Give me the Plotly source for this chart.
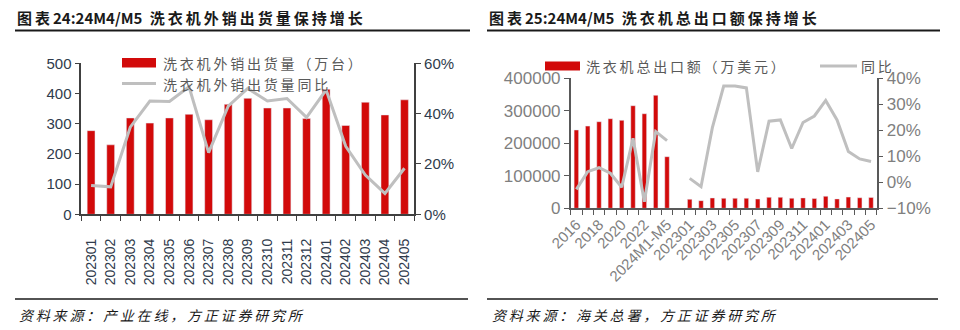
import plotly.graph_objects as go

# ---------------- data ----------------
left_months = ["202301", "202302", "202303", "202304", "202305", "202306", "202307",
               "202308", "202309", "202310", "202311", "202312", "202401", "202402",
               "202403", "202404", "202405"]
left_shipments = [277, 230, 319, 302, 319, 331, 313, 364, 384, 352, 352, 317, 414, 294, 371, 329, 379]
left_yoy = [11.4, 10.9, 34.6, 45.0, 44.8, 50.7, 24.5, 43.0, 50.0, 45.0, 46.0, 38.5, 49.4, 27.0, 15.6, 8.3, 18.3]

right_cats = ["2016", "2017", "2018", "2019", "2020", "2021", "2022", "2023", "2024M1-M5", " ",
              "202301", "202302", "202303", "202304", "202305", "202306", "202307", "202308",
              "202309", "202310", "202311", "202312", "202401", "202402", "202403", "202404", "202405"]
right_export = [241000, 253000, 266500, 275700, 270700, 315700, 291000, 347700, 158800, None,
                27700, 23600, 31800, 30800, 30800, 31000, 28700, 33800, 33800, 31000, 32000,
                30000, 37000, 29000, 34500, 32500, 33500]
right_yoy = [-2.7, 4.1, 5.6, 3.5, -1.9, 16.9, -7.5, 19.5, 16.0, None,
             1.5, -1.7, 21.0, 37.0, 37.0, 36.3, 4.0, 23.5, 24.0, 13.0, 23.0, 25.5, 31.5, 24.0,
             11.8, 9.0, 8.0]
right_ticktext = [c if i % 2 == 0 else "" for i, c in enumerate(right_cats)]

left_title = "图表24:24M4/M5 洗衣机外销出货量保持增长"
right_title = "图表25:24M4/M5 洗衣机总出口额保持增长"
left_source = "资料来源：产业在线，方正证券研究所"
right_source = "资料来源：海关总署，方正证券研究所"
left_bar_name = "洗衣机外销出货量（万台）"
left_line_name = "洗衣机外销出货量同比"
right_bar_name = "洗衣机总出口额（万美元）"
right_line_name = "同比"

RED = "#D20A0A"
GRAY = "#BFBFBF"
CJK = "Noto Sans CJK SC"
LAT = "Liberation Sans, Arial"
W, H = 960, 330


def sp(s):
    # emulate letter spacing around CJK characters with thin spaces
    out = ""
    for i, ch in enumerate(s):
        if ch == " ":
            out += "\u2002"
            continue
        if i > 0:
            prev = s[i - 1]
            if (ord(ch) > 127 or ord(prev) > 127) and prev != " ":
                out += "\u2009"
        out += ch
    return out


fig = go.Figure()

# left chart
fig.add_trace(go.Bar(x=left_months, y=left_shipments, marker_color=RED, xaxis="x", yaxis="y",
                     showlegend=False))
fig.add_trace(go.Scatter(x=left_months, y=left_yoy, mode="lines", line=dict(color=GRAY, width=3),
                         xaxis="x", yaxis="y2", showlegend=False))
# right chart
fig.add_trace(go.Bar(x=right_cats, y=right_export, marker_color=RED, xaxis="x2", yaxis="y3",
                     showlegend=False))
fig.add_trace(go.Scatter(x=right_cats, y=right_yoy, mode="lines", line=dict(color=GRAY, width=3),
                         connectgaps=False, xaxis="x2", yaxis="y4", showlegend=False))


def px_x(p):
    return p / W


def px_y(p):
    return 1 - p / H


L_X0, L_X1, L_Y0, L_Y1 = 81.3, 414.3, 214.3, 63.3
R_X0, R_X1, R_Y0, R_Y1 = 570.7, 876.7, 208.3, 78.3

left_tick_font = dict(family=LAT, size=15, color="#2F3B4C")
right_tick_font = dict(family=LAT, size=17, color="#7F7F7F")

fig.update_layout(
    width=W, height=H,
    margin=dict(l=0, r=0, t=0, b=0),
    paper_bgcolor="white", plot_bgcolor="white",
    bargap=0.6,
    xaxis=dict(domain=[px_x(L_X0), px_x(L_X1)], anchor="y", type="category",
               showline=True, linecolor="#404040", linewidth=1.5,
               ticks="outside", ticklen=5, tickcolor="#404040", tickson="boundaries",
               tickangle=-90, ticklabelstandoff=17,
               tickfont=dict(family=LAT, size=14, color="#2F3B4C"),
               showgrid=False, automargin=False),
    yaxis=dict(domain=[px_y(L_Y0), px_y(L_Y1)], anchor="x", range=[0, 500], dtick=100,
               showline=True, linecolor="#404040", linewidth=1.5, ticks="outside", ticklen=5,
               tickcolor="#404040", tickfont=left_tick_font, showgrid=False, zeroline=False,
               automargin=False),
    yaxis2=dict(overlaying="y", side="right", anchor="x", range=[0, 60], dtick=20, ticksuffix="%",
                showline=True, linecolor="#404040", linewidth=1.5, ticks="outside", ticklen=5,
                tickcolor="#404040", tickfont=left_tick_font, showgrid=False, zeroline=False,
                automargin=False),
    xaxis2=dict(domain=[px_x(R_X0), px_x(R_X1)], anchor="y3", type="category",
                showline=True, linecolor="#595959", linewidth=1.5,
                ticks="outside", ticklen=5, tickcolor="#595959", tickson="boundaries",
                tickmode="array", tickvals=right_cats, ticktext=right_ticktext,
                tickangle=-45, tickfont=dict(family=LAT, size=15, color="#7F7F7F"),
                showgrid=False, automargin=False),
    yaxis3=dict(domain=[px_y(R_Y0), px_y(R_Y1)], anchor="x2", range=[0, 400000], dtick=100000,
                showline=True, linecolor="#595959", linewidth=1.5, ticks="outside", ticklen=5,
                tickcolor="#595959", tickfont=right_tick_font, showgrid=False, zeroline=False,
                tickformat="d", automargin=False),
    yaxis4=dict(overlaying="y3", side="right", anchor="x2", range=[-10, 40], dtick=10, ticksuffix="%",
                showline=True, linecolor="#595959", linewidth=1.5, ticks="outside", ticklen=5,
                tickcolor="#595959", tickfont=right_tick_font, showgrid=False, zeroline=False,
                automargin=False),
)

shapes = []
annotations = []
# titles and rules
for x0, x1, title, src, sx in [(15, 470, left_title, left_source, 17),
                               (487, 940, right_title, right_source, 490)]:
    shapes.append(dict(type="line", xref="paper", yref="paper", x0=px_x(x0), x1=px_x(x1),
                       y0=px_y(30.5), y1=px_y(30.5), line=dict(color="#1A1A1A", width=2.2)))
    shapes.append(dict(type="line", xref="paper", yref="paper", x0=px_x(x0), x1=px_x(x1 - 2),
                       y0=px_y(299), y1=px_y(299), line=dict(color="#1A1A1A", width=1.5)))
    annotations.append(dict(xref="paper", yref="paper", x=px_x(x0), y=px_y(17), xanchor="left",
                            yanchor="middle", showarrow=False, text=sp(title),
                            font=dict(family=CJK, size=15, color="#1A1A1A", weight=700)))
    annotations.append(dict(xref="paper", yref="paper", x=px_x(sx), y=px_y(315), xanchor="left",
                            yanchor="middle", showarrow=False, text=sp(src),
                            font=dict(family=CJK, size=14, color="#1A1A1A", style="italic")))

# legends (manual)
leg_font = dict(family=CJK, size=14, color="#595959")
shapes.append(dict(type="rect", xref="paper", yref="paper", x0=px_x(122), x1=px_x(156),
                   y0=px_y(67.5), y1=px_y(58), fillcolor=RED, line=dict(width=0)))
annotations.append(dict(xref="paper", yref="paper", x=px_x(161), y=px_y(62.5), xanchor="left",
                        yanchor="middle", showarrow=False, text=sp(left_bar_name), font=leg_font))
shapes.append(dict(type="line", xref="paper", yref="paper", x0=px_x(122), x1=px_x(156),
                   y0=px_y(83.5), y1=px_y(83.5), line=dict(color=GRAY, width=3)))
annotations.append(dict(xref="paper", yref="paper", x=px_x(161), y=px_y(83.5), xanchor="left",
                        yanchor="middle", showarrow=False, text=sp(left_line_name), font=leg_font))

shapes.append(dict(type="rect", xref="paper", yref="paper", x0=px_x(545), x1=px_x(580),
                   y0=px_y(70.5), y1=px_y(61.5), fillcolor=RED, line=dict(width=0)))
annotations.append(dict(xref="paper", yref="paper", x=px_x(584), y=px_y(66), xanchor="left",
                        yanchor="middle", showarrow=False, text=sp(right_bar_name), font=leg_font))
shapes.append(dict(type="line", xref="paper", yref="paper", x0=px_x(820), x1=px_x(857),
                   y0=px_y(66), y1=px_y(66), line=dict(color=GRAY, width=3)))
annotations.append(dict(xref="paper", yref="paper", x=px_x(859), y=px_y(66), xanchor="left",
                        yanchor="middle", showarrow=False, text=sp(right_line_name), font=leg_font))

fig.update_layout(shapes=shapes, annotations=annotations)

fig.write_html("out.html")
